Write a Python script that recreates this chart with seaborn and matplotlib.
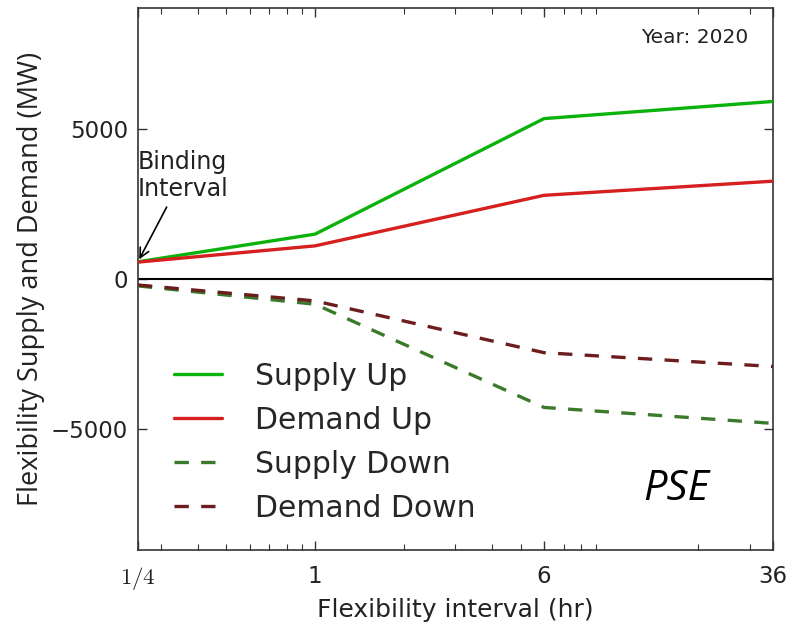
import matplotlib
matplotlib.use("Agg")
import matplotlib.pyplot as plt
import seaborn as sns
import numpy as np
import pandas as pd

# ---- data ----
intervals = [0.25, 1, 6, 36]
tick_labels = ["$1/4$", "1", "6", "36"]
supply_up = [570, 1490, 5330, 5900]
demand_up = [560, 1100, 2780, 3250]
supply_down = [-230, -840, -4270, -4800]
demand_down = [-200, -730, -2450, -2910]
series_names = ["Supply Up", "Demand Up", "Supply Down", "Demand Down"]

sns.set_style("ticks")
plt.rcParams["font.family"] = ["DejaVu Sans"]
plt.rcParams["mathtext.fontset"] = "cm"

fig = plt.figure(figsize=(7.88, 6.29), dpi=100)
ax = fig.add_axes([0.175, 0.126, 0.806, 0.861])

colors = ["#0cb20c", "#d61f1f", "#3b7a2c", "#6d1d1d"]
styles = ["-", "-", (0, (4.3, 3.7)), (0, (4.3, 3.7))]
values = [supply_up, demand_up, supply_down, demand_down]

ax.axhline(0, color="black", lw=1.5, zorder=1)
for name, vals, c, ls in zip(series_names, values, colors, styles):
    sns.lineplot(x=intervals, y=vals, ax=ax, color=c, lw=2.4,
                 linestyle=ls, label=name, zorder=3)

ax.set_xscale("log")
ax.set_xlim(0.25, 36)
ax.set_ylim(-9000, 9000)
ax.set_xticks(intervals)
ax.set_xticklabels(tick_labels)
ax.set_yticks([-5000, 0, 5000])
ax.set_yticklabels(["\u22125000", "0", "5000"])

ax.tick_params(axis="both", which="both", direction="in", top=True, right=True,
               colors="#333333")
ax.tick_params(axis="both", which="major", length=6.5, width=1)
ax.tick_params(axis="both", which="minor", length=4, width=0.8)
ax.tick_params(axis="y", labelsize=16.5, pad=7, labelcolor="#222222")
ax.tick_params(axis="x", labelsize=16.5, pad=11, labelcolor="#222222")
for s in ax.spines.values():
    s.set_color("#333333")
    s.set_linewidth(1.2)

ax.set_xlabel("Flexibility interval (hr)", fontsize=18, color="#222222", labelpad=4)
ax.set_ylabel("Flexibility Supply and Demand (MW)", fontsize=19.5,
              family=["Open Sans", "DejaVu Sans"], color="#222222", labelpad=4)

leg = ax.legend(loc="lower left", bbox_to_anchor=(0.057, 0.05), frameon=False,
                fontsize=21.5, handlelength=1.6, handletextpad=1.1,
                labelspacing=0.5, borderpad=0, borderaxespad=0)

ax.text(0.961, 0.946, "Year: 2020", transform=ax.transAxes, ha="right",
        va="center", fontsize=14.5, color="#222222")
ax.text(0.847, 0.112, "PSE", transform=ax.transAxes, ha="center", va="center",
        fontsize=30, style="italic", family=["Open Sans", "DejaVu Sans"],
        color="black")

ax.annotate("Binding\nInterval", xy=(intervals[0], supply_up[0]),
            xytext=(0.25, 3440), textcoords="data", ha="left", va="center",
            fontsize=17, color="#222222",
            arrowprops=dict(arrowstyle="->", color="black", lw=1.2))

fig.savefig("out.png", dpi=100)
